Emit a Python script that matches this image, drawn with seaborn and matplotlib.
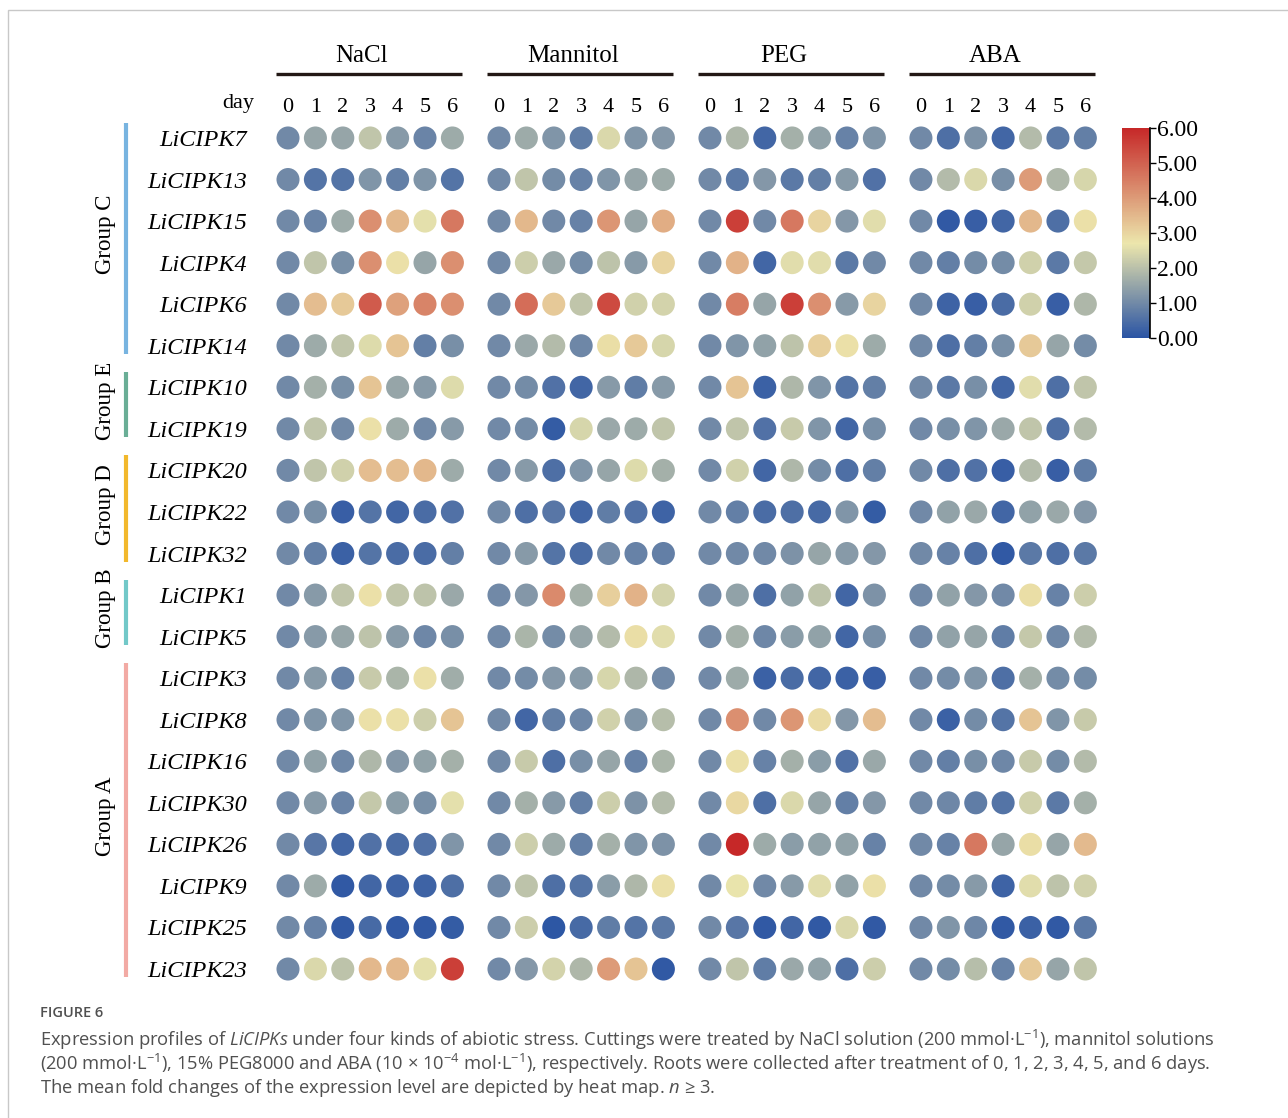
import numpy as np
import pandas as pd
import matplotlib
matplotlib.use("Agg")
import matplotlib.pyplot as plt
import matplotlib.transforms as mtransforms
from matplotlib.colors import LinearSegmentedColormap, Normalize
from matplotlib.patches import Rectangle
import seaborn as sns

# ---------------- data ----------------
genes = ["LiCIPK7", "LiCIPK13", "LiCIPK15", "LiCIPK4", "LiCIPK6", "LiCIPK14",
         "LiCIPK10", "LiCIPK19", "LiCIPK20", "LiCIPK22", "LiCIPK32",
         "LiCIPK1", "LiCIPK5", "LiCIPK3", "LiCIPK8", "LiCIPK16", "LiCIPK30",
         "LiCIPK26", "LiCIPK9", "LiCIPK25", "LiCIPK23"]
days = ["0", "1", "2", "3", "4", "5", "6"]
treatments = ["NaCl", "Mannitol", "PEG", "ABA"]
group_names = ["Group C", "Group E", "Group D", "Group B", "Group A"]
group_sizes = [6, 2, 3, 2, 8]
group_colors = ["#78B4E0", "#6AAE96", "#F2B82C", "#72C8C8", "#F2AAA4"]

nacl = [
    [1.0, 1.5, 1.5, 2.1, 1.3, 0.9, 1.6],
    [1.0, 0.6, 0.6, 1.2, 0.8, 1.2, 0.6],
    [1.0, 0.9, 1.6, 4.2, 3.5, 2.6, 4.6],
    [1.0, 2.1, 1.1, 4.2, 2.8, 1.5, 4.2],
    [1.0, 3.4, 3.2, 5.1, 3.9, 4.4, 4.2],
    [1.0, 1.6, 2.1, 2.5, 3.3, 0.8, 1.1],
    [1.0, 1.7, 1.1, 3.3, 1.5, 1.3, 2.5],
    [1.0, 2.1, 1.0, 2.8, 1.6, 1.0, 1.3],
    [1.0, 2.1, 2.3, 3.4, 3.4, 3.5, 1.6],
    [1.0, 1.1, 0.2, 0.6, 0.35, 0.45, 0.55],
    [1.0, 0.8, 0.25, 0.6, 0.45, 0.45, 0.8],
    [1.0, 1.3, 2.1, 2.8, 2.1, 2.05, 1.55],
    [1.0, 1.3, 1.5, 2.05, 1.3, 0.95, 1.1],
    [1.0, 1.3, 0.85, 2.2, 1.8, 2.8, 1.65],
    [1.0, 1.2, 1.2, 2.8, 2.8, 2.25, 3.3],
    [1.0, 1.45, 0.95, 1.85, 1.25, 1.45, 1.7],
    [1.0, 1.3, 0.9, 2.15, 1.35, 1.1, 2.6],
    [1.0, 0.65, 0.35, 0.55, 0.45, 0.55, 1.2],
    [1.0, 1.6, 0.1, 0.35, 0.3, 0.3, 0.5],
    [1.0, 0.85, 0.1, 0.4, 0.1, 0.1, 0.15],
    [1.0, 2.45, 2.05, 3.5, 3.5, 2.6, 5.6],
]
mannitol = [
    [1.0, 1.6, 1.2, 0.75, 2.45, 1.2, 1.25],
    [1.0, 2.1, 1.05, 0.85, 1.2, 1.5, 1.6],
    [1.0, 3.5, 1.0, 0.85, 4.1, 1.5, 3.7],
    [1.0, 2.25, 1.55, 1.05, 2.05, 1.3, 3.0],
    [1.0, 4.8, 3.2, 2.1, 5.4, 2.3, 2.35],
    [1.0, 1.55, 1.9, 0.95, 2.85, 3.2, 2.4],
    [1.0, 1.05, 0.55, 0.35, 1.3, 0.75, 1.3],
    [1.0, 1.05, 0.15, 2.4, 1.55, 1.6, 2.1],
    [1.0, 1.3, 0.5, 1.2, 1.5, 2.5, 1.7],
    [1.0, 0.5, 0.65, 0.35, 0.75, 0.55, 0.3],
    [1.0, 1.3, 0.6, 0.45, 1.0, 0.85, 0.8],
    [1.0, 1.25, 4.3, 1.7, 3.1, 3.6, 2.35],
    [1.0, 1.8, 1.05, 1.5, 1.9, 2.85, 2.55],
    [1.0, 1.05, 1.25, 1.3, 2.4, 1.85, 1.0],
    [1.0, 0.35, 0.8, 0.95, 2.3, 1.2, 1.95],
    [1.0, 2.2, 0.5, 1.1, 1.5, 0.85, 1.8],
    [1.0, 1.7, 1.3, 0.8, 2.25, 1.15, 1.9],
    [1.0, 2.25, 1.6, 0.8, 1.7, 1.2, 1.15],
    [1.0, 2.05, 0.5, 0.6, 1.35, 1.85, 2.8],
    [1.0, 2.25, 0.05, 0.4, 0.75, 0.6, 0.7],
    [1.0, 1.25, 2.35, 1.85, 4.0, 3.3, 0.1],
]
peg = [
    [1.0, 1.85, 0.35, 1.7, 1.45, 0.85, 1.2],
    [1.0, 0.7, 1.25, 0.7, 0.8, 1.3, 0.55],
    [1.0, 5.6, 1.0, 4.6, 3.0, 1.25, 2.55],
    [1.0, 3.6, 0.35, 2.55, 2.55, 0.7, 1.0],
    [1.0, 4.5, 1.5, 5.6, 4.2, 1.3, 3.0],
    [1.0, 1.2, 1.45, 2.05, 3.1, 2.8, 1.6],
    [1.0, 3.3, 0.25, 1.85, 1.2, 0.6, 0.8],
    [1.0, 2.1, 0.55, 2.2, 1.2, 0.35, 1.1],
    [1.0, 2.3, 0.35, 1.85, 1.05, 0.5, 0.8],
    [1.0, 0.8, 0.45, 0.5, 0.4, 1.2, 0.15],
    [1.0, 1.0, 1.0, 1.15, 1.5, 1.3, 1.25],
    [1.0, 1.45, 0.5, 1.45, 2.05, 0.35, 1.15],
    [1.0, 1.7, 0.95, 1.35, 1.45, 0.35, 1.1],
    [1.0, 1.6, 0.25, 0.45, 0.35, 0.25, 0.2],
    [1.0, 4.2, 1.0, 4.1, 2.9, 1.25, 3.4],
    [1.0, 2.8, 0.85, 1.7, 1.35, 0.55, 1.55],
    [1.0, 2.95, 0.5, 2.45, 1.5, 0.8, 1.25],
    [1.0, 6.0, 1.6, 1.35, 1.45, 1.45, 0.85],
    [1.0, 2.65, 1.0, 1.3, 2.55, 1.45, 2.8],
    [1.0, 0.65, 0.1, 0.35, 0.1, 2.45, 0.1],
    [1.0, 2.1, 0.75, 1.55, 1.45, 0.5, 2.25],
]
aba = [
    [1.0, 0.5, 1.15, 0.35, 1.9, 0.7, 0.8],
    [1.0, 1.9, 2.45, 1.1, 4.0, 1.85, 2.4],
    [1.0, 0.1, 0.2, 0.35, 3.5, 0.5, 2.8],
    [1.0, 0.8, 1.05, 1.05, 2.3, 0.7, 2.15],
    [1.0, 0.3, 0.2, 0.45, 2.3, 0.2, 1.85],
    [1.0, 0.5, 0.8, 1.1, 3.2, 1.5, 1.05],
    [1.0, 0.7, 1.1, 0.35, 2.55, 0.5, 2.1],
    [1.0, 1.1, 1.2, 1.55, 2.1, 0.5, 1.9],
    [1.0, 0.5, 0.55, 0.2, 1.9, 0.2, 0.75],
    [1.0, 1.45, 1.55, 0.35, 1.45, 1.55, 1.25],
    [1.0, 0.85, 0.5, 0.1, 0.7, 0.5, 0.7],
    [1.0, 1.45, 1.25, 1.0, 2.85, 0.85, 2.25],
    [1.0, 1.45, 1.5, 0.75, 2.15, 0.95, 1.9],
    [1.0, 1.05, 1.2, 0.5, 1.7, 1.05, 1.05],
    [1.0, 0.25, 1.05, 0.6, 3.3, 1.2, 2.2],
    [1.0, 0.8, 1.1, 0.95, 2.2, 1.05, 1.9],
    [1.0, 0.95, 0.75, 0.6, 2.3, 0.7, 1.7],
    [1.0, 0.85, 4.6, 1.5, 2.85, 1.5, 3.45],
    [1.0, 1.05, 1.3, 0.3, 2.55, 2.05, 2.3],
    [1.0, 1.2, 0.95, 0.1, 0.25, 0.1, 0.7],
    [1.0, 1.05, 1.95, 0.85, 3.2, 1.5, 2.1],
]
cbar_ticks = [0, 1, 2, 3, 4, 5, 6]

# ---------------- build table ----------------
group_step = 7.7
series = {"NaCl": nacl, "Mannitol": mannitol, "PEG": peg, "ABA": aba}
rows = []
for ti, t in enumerate(treatments):
    for gi, g in enumerate(genes):
        for di, d in enumerate(days):
            rows.append({"treatment": t, "gene": g, "row": gi, "day": di,
                         "x": ti * group_step + di, "value": series[t][gi][di]})
df = pd.DataFrame(rows)

cmap = LinearSegmentedColormap.from_list(
    "tb", [(0.0, "#2A54A4"), (0.45, "#ECE6AC"), (1.0, "#C62828")])
norm = Normalize(0, 6)

# ---------------- figure ----------------
W, H = 1288, 1118
fig = plt.figure(figsize=(W / 100, H / 100), dpi=100)
fig.patch.set_facecolor("white")
serif = "Liberation Serif"

px_unit = 27.4
ax_left = 288 - 0.5 * px_unit
ax_right = 288 + (3 * group_step + 6.5) * px_unit
ax_top, ax_bot = 117.2, 989.8
ax = fig.add_axes([ax_left / W, 1 - ax_bot / H, (ax_right - ax_left) / W, (ax_bot - ax_top) / H])

sns.scatterplot(data=df, x="x", y="row", hue="value", palette=cmap, hue_norm=(0, 6),
                s=275, linewidth=0, legend=False, ax=ax, zorder=3)

ax.set_xlim(-0.5, 3 * group_step + 6.5)
ax.set_ylim(len(genes) - 0.5, -0.5)
for sp in ax.spines.values():
    sp.set_visible(False)
ax.set_xlabel("")
ax.set_ylabel("")

xt = [ti * group_step + di for ti in range(len(treatments)) for di in range(len(days))]
ax.set_xticks(xt)
ax.set_xticklabels(days * len(treatments), fontfamily=serif, fontsize=16)
ax.xaxis.tick_top()
ax.tick_params(axis="x", length=0, pad=0.5)
ax.set_yticks(range(len(genes)))
ax.set_yticklabels(genes, fontfamily=serif, fontstyle="italic", fontsize=17.5)
ax.tick_params(axis="y", length=0, pad=19.5)

ax.text(-1.24, -0.84, "day", fontfamily=serif, fontsize=16, ha="right", va="center")

# treatment headers
for ti, t in enumerate(treatments):
    x0 = ti * group_step
    ax.plot([x0 - 0.45, x0 + 6.35], [-1.54, -1.54], color="#231815", lw=2.4,
            clip_on=False, solid_capstyle="butt")
    ax.text(x0 + 2.7, -1.97, t, fontfamily=serif, fontsize=18, ha="center", va="center")

# group bars and labels
trans = mtransforms.blended_transform_factory(fig.transFigure, ax.transData)
start = 0
for name, size, col in zip(group_names, group_sizes, group_colors):
    y0, y1 = start - 0.36, start + size - 1 + 0.2
    ax.plot([126 / W, 126 / W], [y0, y1], color=col, lw=3, transform=trans,
            clip_on=False, solid_capstyle="butt")
    ax.text(105 / W, (y0 + y1) / 2 - 0.1, name, fontfamily=serif, fontsize=16.5, rotation=90,
            ha="center", va="center", transform=trans)
    start += size

# colorbar
cax = fig.add_axes([1122 / W, 1 - 338 / H, 28 / W, 210 / H])
sm = plt.cm.ScalarMappable(norm=norm, cmap=cmap)
cb = fig.colorbar(sm, cax=cax, ticks=cbar_ticks)
cb.outline.set_visible(False)
cb.ax.set_yticklabels([f"{v:.2f}" for v in cbar_ticks], fontfamily=serif, fontsize=17)
cb.ax.tick_params(length=4, width=1, color="black", pad=1)
cax.plot([1, 1], [0, 1], transform=cax.transAxes, color="black", lw=1.2, clip_on=False)

# frame
fig.patches.append(Rectangle((8 / W, -0.05), 1.2, 1.05 - 10 / H, transform=fig.transFigure,
                             fill=False, ec="#c8c8c8", lw=1))

# caption
plt.rcParams["mathtext.fontset"] = "custom"
plt.rcParams["mathtext.rm"] = "Open Sans"
plt.rcParams["mathtext.it"] = "Open Sans:italic"
plt.rcParams["mathtext.bf"] = "Open Sans:bold"
capc = "#505050"
fig.text(40 / W, 1 - 1013 / H, "FIGURE 6", fontfamily="Open Sans", fontweight="semibold",
         fontsize=10.5, color=capc, va="center")
cap_lines = [
    r"Expression profiles of $\it{LiCIPKs}$ under four kinds of abiotic stress. Cuttings were treated by NaCl solution (200 mmol·L$^{-1}$), mannitol solutions",
    r"(200 mmol·L$^{-1}$), 15% PEG8000 and ABA (10 × 10$^{-4}$ mol·L$^{-1}$), respectively. Roots were collected after treatment of 0, 1, 2, 3, 4, 5, and 6 days.",
    r"The mean fold changes of the expression level are depicted by heat map. $\it{n}$ ≥ 3.",
]
for i, line in enumerate(cap_lines):
    fig.text(40 / W, 1 - (1040 + 24 * i) / H, line, fontfamily="Open Sans", fontsize=13.2,
             color=capc, va="center")

fig.savefig("out.png", dpi=100, facecolor="white")
